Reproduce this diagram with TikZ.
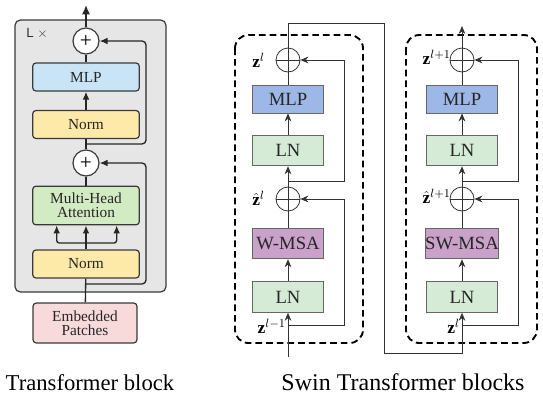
\documentclass[tikz,border=0pt]{standalone}
\usepackage{fontspec}
\setmainfont{Liberation Serif}
\setsansfont{Liberation Sans}
\usetikzlibrary{arrows.meta}

\definecolor{vitgray}{HTML}{E6E6E6}
\definecolor{vitedge}{HTML}{3A3A3A}
\definecolor{vitmlp}{HTML}{C8E4F6}
\definecolor{vitnorm}{HTML}{FDE9A8}
\definecolor{vitattn}{HTML}{D2EBC2}
\definecolor{vitemb}{HTML}{F9DADA}
\definecolor{swinmlp}{HTML}{9DB8E6}
\definecolor{swinln}{HTML}{D6EBD5}
\definecolor{swinmsa}{HTML}{C9A1C9}

\begin{document}
\begin{tikzpicture}[x=.75pt,y=-.75pt,
  vitbox/.style={draw=vitedge,line width=0.9pt,rounded corners=2.5pt,inner sep=0pt,
    minimum width=80pt,minimum height=21pt,align=center,text=black!85,
    font=\fontsize{11.5}{12.5}\selectfont},
  vitadd/.style={circle,draw=vitedge,fill=white,line width=0.9pt,inner sep=0pt,
    minimum size=19.5pt,font=\fontsize{16}{16}\selectfont},
  vitline/.style={draw=black!85,line width=1pt},
  swinbox/.style={draw=black!60,line width=0.6pt,inner sep=0pt,
    minimum width=53pt,minimum height=23pt,text=black!85,
    font=\fontsize{14}{14}\selectfont},
  swinadd/.style={circle,draw=black!80,line width=0.6pt,inner sep=0pt,minimum size=18pt,
    path picture={\draw[black!80,line width=0.6pt]
      (path picture bounding box.north) -- (path picture bounding box.south)
      (path picture bounding box.west) -- (path picture bounding box.east);}},
  swinline/.style={draw=black!80,line width=0.6pt},
  swinframe/.style={draw=black,line width=1.4pt,dash pattern=on 5pt off 3pt,rounded corners=10pt},
  zlabel/.style={anchor=east,inner sep=0pt,font=\fontsize{13}{13}\selectfont},
  caption/.style={inner sep=0pt,anchor=base,font=\fontsize{17}{18}\selectfont}]
\path[use as bounding box] (0,0) rectangle (543,401);

% Transformer block
\path[fill=vitgray,draw=vitedge,line width=0.9pt,rounded corners=4pt] (15,20) rectangle (166,292);
\node[anchor=west,inner sep=0pt,font=\sffamily\fontsize{10}{10}\selectfont,text=black!80] (lx) at (26,33) {L $\times$};
\node[vitadd] (add1) at (86,41) {+};
\node[vitbox,fill=vitmlp] (mlp) at (86,77) {MLP};
\node[vitbox,fill=vitnorm] (norm1) at (86,124.5) {Norm};
\node[vitadd] (add2) at (86,163) {+};
\node[vitbox,fill=vitattn,minimum height=29pt] (mha) at (86,205.5) {Multi-Head\\[-2pt]Attention};
\node[vitbox,fill=vitnorm] (norm2) at (86,264) {Norm};
\node[vitbox,fill=vitemb,minimum width=78pt,minimum height=30pt] (emb) at (85,323) {Embedded\\[-2pt]Patches};
\coordinate (out) at (86,5);
\coordinate (r1) at (86,144);
\coordinate (c1) at (146,144);
\coordinate (r2) at (86,284);
\coordinate (c2) at (146,284);
\coordinate (sp) at (86,243);

\draw[vitline,-{Latex[length=7pt,width=6pt]}] (add1) -- (out);
\draw[vitline] (mlp) -- (add1);
\draw[vitline,-{Latex[length=6pt,width=5pt]}] (norm1) -- (mlp);
\draw[vitline] (add2) -- (norm1);
\draw[vitline] (mha) -- (add2);
\draw[vitline,rounded corners=3pt,-{Latex[length=6pt,width=5pt]}] (r1) -- (c1) |- (add1);
\draw[vitline,rounded corners=3pt,-{Latex[length=6pt,width=5pt]}] (r2) -- (c2) |- (add2);
\draw[vitline] (norm2) -- (sp);
\draw[vitline,rounded corners=2pt,-{Latex[length=6pt,width=5pt]}] (sp) -| ([xshift=-22pt]mha.south);
\draw[vitline,-{Latex[length=6pt,width=5pt]}] (sp) -- (mha);
\draw[vitline,rounded corners=2pt,-{Latex[length=6pt,width=5pt]}] (sp) -| ([xshift=23pt]mha.south);
\draw[vitline] (emb) -- (norm2);

% Swin block l
\path[swinframe] (235,35) rectangle (363,343);
\node[swinadd] (addA1) at (288,60) {};
\node[swinbox,fill=swinmlp,minimum height=21pt] (mlpA) at (288,99) {MLP};
\node[swinbox,fill=swinln] (lnA1) at (288,150.5) {LN};
\node[swinadd] (addA2) at (288,199) {};
\node[swinbox,fill=swinmsa] (msaA) at (288,243.5) {W-MSA};
\node[swinbox,fill=swinln] (lnA2) at (288,297) {LN};
\node[zlabel] (zA1) at (265,60) {$\mathbf{z}^{l}$};
\node[zlabel] (zA2) at (265,198) {$\hat{\mathbf{z}}^{l}$};
\node[zlabel] (zA0) at (286,326) {$\mathbf{z}^{l-1}$};
\coordinate (inA) at (288,357);
\coordinate (rA1) at (288,181);
\coordinate (cA1) at (344,181);
\coordinate (rA2) at (288,325);
\coordinate (cA2) at (344,325);

\draw[swinline,-{Stealth[length=6pt,width=5pt]}] (inA) -- (lnA2);
\draw[swinline,-{Stealth[length=6pt,width=5pt]}] (lnA2) -- (msaA);
\draw[swinline] (msaA) -- (addA2);
\draw[swinline,-{Stealth[length=6pt,width=5pt]}] (addA2) -- (lnA1);
\draw[swinline,-{Stealth[length=6pt,width=5pt]}] (lnA1) -- (mlpA);
\draw[swinline] (mlpA) -- (addA1);
\draw[swinline,-{Stealth[length=6pt,width=5pt]}] (rA1) -- (cA1) |- (addA1);
\draw[swinline,-{Stealth[length=6pt,width=5pt]}] (rA2) -- (cA2) |- (addA2);

% Swin block l+1
\path[swinframe] (406,35) rectangle (537,343);
\node[swinadd] (addB1) at (462,60) {};
\node[swinbox,fill=swinmlp,minimum height=21pt] (mlpB) at (462,99) {MLP};
\node[swinbox,fill=swinln] (lnB1) at (462,150.5) {LN};
\node[swinadd] (addB2) at (462,199) {};
\node[swinbox,fill=swinmsa] (msaB) at (462,243.5) {SW-MSA};
\node[swinbox,fill=swinln] (lnB2) at (462,297) {LN};
\node[zlabel] (zB1) at (451,57) {$\mathbf{z}^{l+1}$};
\node[zlabel] (zB2) at (451,196) {$\hat{\mathbf{z}}^{l+1}$};
\node[zlabel] (zB0) at (460,326) {$\mathbf{z}^{l}$};
\coordinate (outB) at (462,26);
\coordinate (rB1) at (462,181);
\coordinate (cB1) at (518,181);
\coordinate (rB2) at (462,325);
\coordinate (cB2) at (518,325);

\draw[swinline,-{Stealth[length=6pt,width=5pt]}] (lnB2) -- (msaB);
\draw[swinline] (msaB) -- (addB2);
\draw[swinline,-{Stealth[length=6pt,width=5pt]}] (addB2) -- (lnB1);
\draw[swinline,-{Stealth[length=6pt,width=5pt]}] (lnB1) -- (mlpB);
\draw[swinline] (mlpB) -- (addB1);
\draw[swinline,-{Stealth[length=6pt,width=5pt]}] (addB1) -- (outB);
\draw[swinline,-{Stealth[length=6pt,width=5pt]}] (rB1) -- (cB1) |- (addB1);
\draw[swinline,-{Stealth[length=6pt,width=5pt]}] (rB2) -- (cB2) |- (addB2);

% link between the two blocks
\coordinate (jA) at (384,23);
\coordinate (jB) at (384,353);
\draw[swinline,-{Stealth[length=6pt,width=5pt]}] (addA1) |- (jA) -- (jB) -| (lnB2);

% captions
\node[caption] (capvit) at (90,390) {Transformer block};
\node[caption,font=\fontsize{18}{19}\selectfont] (capswin) at (403,390) {Swin Transformer blocks};
\end{tikzpicture}
\end{document}
